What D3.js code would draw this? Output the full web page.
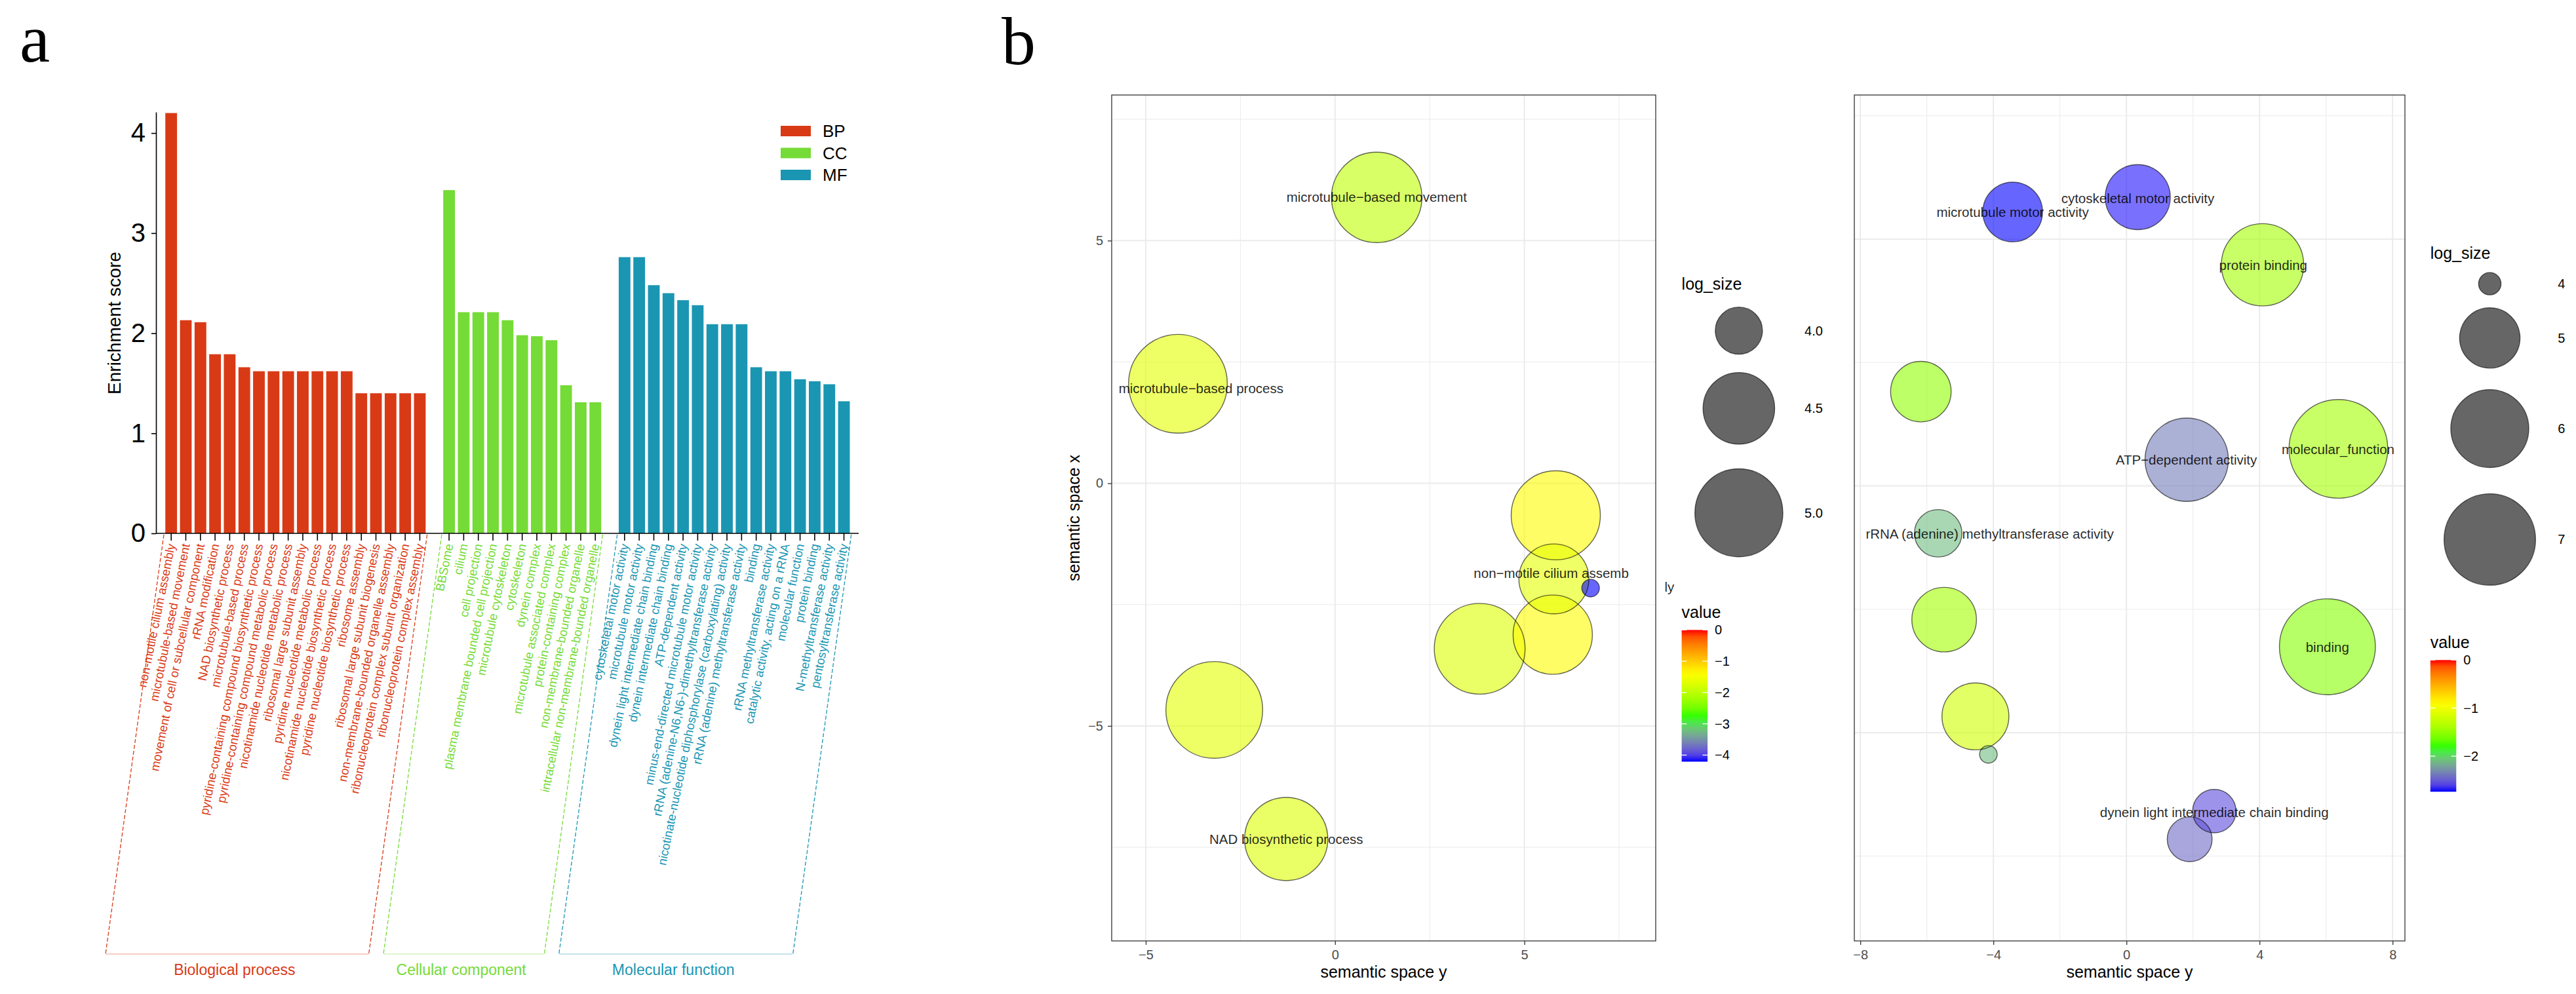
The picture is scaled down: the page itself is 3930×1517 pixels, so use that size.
<!DOCTYPE html>
<html>
<head>
<meta charset="utf-8">
<script src="https://cdn.jsdelivr.net/npm/d3@7"></script>
<style>
body{margin:0;background:#fff;}
text{font-family:"Liberation Sans",Arial,Helvetica,sans-serif;}
</style>
</head>
<body>
<div id="chart"></div>
<script>
// ---------- panel a data ----------
var bpTerms=["non-motile cilium assembly","microtubule-based movement","movement of cell or subcellular component","rRNA modification","NAD biosynthetic process","microtubule-based process","pyridine-containing compound biosynthetic process","pyridine-containing compound metabolic process","nicotinamide nucleotide metabolic process","ribosomal large subunit assembly","pyridine nucleotide metabolic process","nicotinamide nucleotide biosynthetic process","pyridine nucleotide biosynthetic process","ribosome assembly","ribosomal large subunit biogenesis","non-membrane-bounded organelle assembly","ribonucleoprotein complex subunit organization","ribonucleoprotein complex assembly"];
var bpScores=[4.20,2.13,2.11,1.79,1.79,1.66,1.62,1.62,1.62,1.62,1.62,1.62,1.62,1.40,1.40,1.40,1.40,1.40];
var ccTerms=["BBSome","cilium","cell projection","plasma membrane bounded cell projection","microtubule cytoskeleton","cytoskeleton","dynein complex","microtubule associated complex","protein-containing complex","non-membrane-bounded organelle","intracellular non-membrane-bounded organelle"];
var ccScores=[3.43,2.21,2.21,2.21,2.13,1.98,1.97,1.93,1.48,1.31,1.31];
var mfTerms=["cytoskeletal motor activity","microtubule motor activity","dynein light intermediate chain binding","dynein intermediate chain binding","ATP-dependent activity","minus-end-directed microtubule motor activity","rRNA (adenine-N6,N6-)-dimethyltransferase activity","nicotinate-nucleotide diphosphorylase (carboxylating) activity","rRNA (adenine) methyltransferase activity","binding","rRNA methyltransferase activity","catalytic activity, acting on a rRNA","molecular function","protein binding","N-methyltransferase activity","pentosyltransferase activity"];
var mfScores=[2.76,2.76,2.48,2.40,2.33,2.28,2.09,2.09,2.09,1.66,1.62,1.62,1.54,1.52,1.49,1.32];
var groupKeys=["BP","CC","MF"];
var groupNames=["Biological process","Cellular component","Molecular function"];
var groupColors=["#d93a16","#75db36","#1a96b3"];
var scoreTicks=[0,1,2,3,4];

// ---------- panel b data (left: BP terms, right: MF terms) ----------
var leftX=[1.10,-4.15,5.83,5.78,6.75,5.75,3.82,-3.19,-1.29];
var leftY=[5.89,2.05,-0.66,-1.97,-2.16,-3.12,-3.41,-4.67,-7.33];
var leftSize=[5.086,5.398,5.040,4.458,3.786,4.718,5.100,5.321,4.841];
var leftValue=[-1.97,-1.66,-1.38,-1.65,-4.21,-1.38,-1.72,-1.66,-1.72];
var leftLabels=["microtubule\u2212based movement","microtubule\u2212based process","non\u2212motile cilium assemb","ly","NAD biosynthetic process"];
var leftLabelX=[1.10,-3.54,5.71,8.83,-1.29];
var leftLabelY=[5.89,1.95,-1.85,-2.14,-7.33];
var leftSizeBreaks=[4.0,4.5,5.0];

var rightX=[-3.42,0.34,4.09,-6.18,1.81,6.37,-5.66,-5.48,-4.54,-4.15,6.04,2.64,1.90];
var rightY=[5.55,5.85,4.48,1.91,0.53,0.75,-0.96,-2.71,-4.67,-5.44,-3.26,-6.59,-7.16];
var rightSize=[4.967,5.233,6.298,5.004,6.373,7.62,4.481,5.206,5.331,3.987,7.376,4.356,4.398];
var rightValue=[-2.74,-2.72,-1.42,-1.51,-2.37,-1.42,-2.10,-1.42,-1.20,-2.10,-1.55,-2.56,-2.44];
var rightLabels=["microtubule motor activity","cytoskeletal motor activity","protein binding","ATP\u2212dependent activity","molecular_function","rRNA (adenine) methyltransferase activity","binding","dynein light intermediate chain binding"];
var rightLabelX=[-3.42,0.34,4.11,1.80,6.36,-4.11,6.04,2.64];
var rightLabelY=[5.55,5.83,4.47,0.53,0.74,-0.97,-3.27,-6.61];
var rightSizeBreaks=[4,5,6,7];

var W=3930,H=1517;
var svg=d3.select("#chart").append("svg")
  .attr("width",W).attr("height",H)
  .style("background","#fff");

function fmt(d){return d<0?"\u2212"+Math.abs(d):String(d);}

// ================= panel a =================
var slots=[];
var groups=[bpTerms,ccTerms,mfTerms];
var scores=[bpScores,ccScores,mfScores];
groups.forEach(function(terms,g){
  if(g>0) slots.push({key:"gap"+g,g:-1});
  terms.forEach(function(t,i){slots.push({key:groupKeys[g]+i,term:t,score:scores[g][i],g:g});});
});
var bars=slots.filter(function(d){return d.g>=0;});

var xA=d3.scaleBand().domain(slots.map(function(d){return d.key;}))
  .range([250,1298.7]).paddingInner(0.2).paddingOuter(0.1);
var yA=d3.scaleLinear().domain([0,4.21]).range([814,171]);
var bw=xA.bandwidth(),step=xA.step();

var pa=svg.append("g");
pa.selectAll("rect.bar").data(bars).enter().append("rect")
  .attr("class","bar")
  .attr("x",function(d){return xA(d.key);})
  .attr("y",function(d){return yA(d.score);})
  .attr("width",bw)
  .attr("height",function(d){return yA(0)-yA(d.score);})
  .attr("fill",function(d){return groupColors[d.g];});

var yAxisA=pa.append("g").attr("transform","translate(238,0)")
  .call(d3.axisLeft(yA).tickValues(scoreTicks).tickFormat(d3.format("d"))
    .tickSize(7).tickSizeOuter(0).tickPadding(9));
yAxisA.select(".domain").attr("stroke","#000").attr("stroke-width",1.6);
yAxisA.selectAll(".tick line").attr("stroke","#000").attr("stroke-width",1.6);
yAxisA.selectAll(".tick text").attr("font-size",40).attr("fill","#000")
  .style("font-family","'Liberation Sans',Arial,sans-serif");

pa.append("line").attr("x1",238).attr("x2",1310).attr("y1",yA(0)).attr("y2",yA(0))
  .attr("stroke","#000").attr("stroke-width",1.6);
var xAxisA=pa.append("g").attr("transform","translate(0,"+yA(0)+")")
  .call(d3.axisBottom(xA).tickValues(bars.map(function(d){return d.key;})).tickSize(11).tickFormat(""));
xAxisA.select(".domain").remove();
xAxisA.selectAll(".tick line").attr("stroke","#000").attr("stroke-width",1.6);

pa.append("text").attr("transform","translate(184,493) rotate(-90)")
  .attr("text-anchor","middle").attr("font-size",28).attr("fill","#000")
  .text("Enrichment score");

pa.selectAll("text.term").data(bars).enter().append("text")
  .attr("class","term")
  .attr("transform",function(d){return "translate("+(xA(d.key)+bw/2)+",830) rotate(-78.5)";})
  .attr("text-anchor","end").attr("dy","0.35em")
  .attr("font-size",18.6)
  .attr("fill",function(d){return groupColors[d.g];})
  .text(function(d){return d.term;});

// group brackets
var slant=89,topY=816,botY=1456;
groupKeys.forEach(function(k,g){
  var gb=bars.filter(function(d){return d.g===g;});
  var l=xA(gb[0].key)-step*0.1, r=xA(gb[gb.length-1].key)+bw+step*0.1;
  var c=groupColors[g];
  pa.append("path").attr("d","M"+l+","+topY+"L"+(l-slant)+","+botY+"M"+r+","+topY+"L"+(r-slant)+","+botY)
    .attr("stroke",c).attr("stroke-width",1.3).attr("stroke-dasharray","6,3").attr("fill","none");
  pa.append("line").attr("x1",l-slant).attr("x2",r-slant).attr("y1",botY).attr("y2",botY)
    .attr("stroke",c).attr("stroke-opacity",0.35).attr("stroke-width",1.5);
  pa.append("text").attr("x",(l+r)/2-slant-4).attr("y",1488)
    .attr("text-anchor","middle").attr("font-size",23).attr("fill",c)
    .text(groupNames[g]);
});

// legend
var legA=pa.append("g");
groupKeys.forEach(function(k,i){
  var cy=200+i*33.5;
  legA.append("rect").attr("x",1191).attr("y",cy-8).attr("width",46).attr("height",16).attr("fill",groupColors[i]);
  legA.append("text").attr("x",1255).attr("y",cy).attr("dy","0.35em").attr("font-size",26).attr("fill","#000").text(k);
});

svg.append("text").attr("x",30).attr("y",94).attr("font-size",104)
  .style("font-family","'Liberation Serif','Times New Roman',serif").text("a");
svg.append("text").attr("x",1528).attr("y",98).attr("font-size",104)
  .style("font-family","'Liberation Serif','Times New Roman',serif").text("b");

// ================= panel b =================
var defs=svg.append("defs");
defs.append("clipPath").attr("id","cutRight").append("rect")
  .attr("x",2808).attr("y",0).attr("width",W-2808).attr("height",H);

function bubblePlot(o){
  var g=svg.append("g");
  var x=d3.scaleLinear().domain(o.xDomain).range([o.x0,o.x1]);
  var y=d3.scaleLinear().domain(o.yDomain).range([o.y1,o.y0]);
  var grid="#ebebeb";
  g.selectAll("line.vmin").data(o.xMinor).enter().append("line")
    .attr("x1",x).attr("x2",x).attr("y1",o.y0).attr("y2",o.y1).attr("stroke",grid).attr("stroke-width",1);
  g.selectAll("line.hmin").data(o.yMinor).enter().append("line")
    .attr("y1",y).attr("y2",y).attr("x1",o.x0).attr("x2",o.x1).attr("stroke",grid).attr("stroke-width",1);
  g.selectAll("line.vmaj").data(o.xTicks).enter().append("line")
    .attr("x1",x).attr("x2",x).attr("y1",o.y0).attr("y2",o.y1).attr("stroke",grid).attr("stroke-width",2);
  g.selectAll("line.hmaj").data(o.yTicks).enter().append("line")
    .attr("y1",y).attr("y2",y).attr("x1",o.x0).attr("x2",o.x1).attr("stroke",grid).attr("stroke-width",2);

  var vmin=d3.min(o.value);
  var color=d3.scaleLinear().domain([vmin,vmin*2/3,vmin/3,0])
    .range(["#0000ff","#00ff00","#ffff00","#ff0000"]).interpolate(d3.interpolateLab);
  var t=d3.scaleLinear().domain(d3.extent(o.size)).range([0,1]).clamp(true);
  var rs=d3.scaleSqrt().domain([0,1]).range([13.4,75.3]);
  function rad(v){return rs(t(v));}

  var pts=o.xs.map(function(v,i){return {x:v,y:o.ys[i],s:o.size[i],v:o.value[i]};});
  pts.sort(function(a,b){return b.s-a.s;});
  g.selectAll("circle.fillpt").data(pts).enter().append("circle")
    .attr("cx",function(d){return x(d.x);}).attr("cy",function(d){return y(d.y);})
    .attr("r",function(d){return rad(d.s);})
    .attr("fill",function(d){return color(d.v);}).attr("fill-opacity",0.6);
  g.selectAll("circle.ring").data(pts).enter().append("circle")
    .attr("cx",function(d){return x(d.x);}).attr("cy",function(d){return y(d.y);})
    .attr("r",function(d){return rad(d.s);})
    .attr("fill","none").attr("stroke","#000").attr("stroke-opacity",0.6).attr("stroke-width",1.4);

  g.selectAll("text.lab").data(o.labels).enter().append("text")
    .attr("x",function(d,i){return x(o.lx[i]);}).attr("y",function(d,i){return y(o.ly[i]);})
    .attr("dy","0.35em").attr("text-anchor","middle").attr("font-size",20.5)
    .attr("fill","#000").attr("fill-opacity",0.85).text(function(d){return d;});

  g.append("rect").attr("x",o.x0).attr("y",o.y0).attr("width",o.x1-o.x0).attr("height",o.y1-o.y0)
    .attr("fill","none").attr("stroke","#333").attr("stroke-width",1.3);

  var ax=g.append("g").attr("transform","translate(0,"+o.y1+")")
    .call(d3.axisBottom(x).tickValues(o.xTicks).tickSize(6).tickPadding(8).tickFormat(fmt));
  var ay=g.append("g").attr("transform","translate("+o.x0+",0)")
    .call(d3.axisLeft(y).tickValues(o.yTicks).tickSize(6).tickPadding(7).tickFormat(fmt));
  if(o.clip) ay.attr("clip-path","url(#"+o.clip+")");
  [ax,ay].forEach(function(a){
    a.select(".domain").remove();
    a.selectAll(".tick line").attr("stroke","#333").attr("stroke-width",1.3);
    a.selectAll(".tick text").attr("font-size",20).attr("fill","#4d4d4d")
      .style("font-family","'Liberation Sans',Arial,sans-serif");
  });
  g.append("text").attr("x",(o.x0+o.x1)/2).attr("y",o.y1+56).attr("text-anchor","middle")
    .attr("font-size",25).attr("fill","#000").text("semantic space y");
  if(o.yTitle){
    g.append("text").attr("transform","translate("+(o.x0-49)+","+((o.y0+o.y1)/2)+") rotate(-90)")
      .attr("text-anchor","middle").attr("font-size",25).attr("fill","#000").text("semantic space x");
  }

  // size legend
  var L=o.legend;
  g.append("text").attr("x",L.x).attr("y",L.sizeTitleY).attr("font-size",25).attr("fill","#000").text("log_size");
  var rr=o.breaks.map(rad);
  var rmax=rr[rr.length-1];
  var cx=L.x+1.3*rmax, cyv=L.sizeTitleY+16+1.31*rr[0];
  o.breaks.forEach(function(b,i){
    if(i>0) cyv+=1.31*(rr[i-1]+rr[i]);
    g.append("circle").attr("cx",cx).attr("cy",cyv).attr("r",rr[i])
      .attr("fill","#000").attr("fill-opacity",0.6).attr("stroke","#000").attr("stroke-opacity",0.6).attr("stroke-width",1.4);
    g.append("text").attr("x",L.x+2.6*rmax+13).attr("y",cyv).attr("dy","0.35em")
      .attr("font-size",20).attr("fill","#000").text(o.breakLabels[i]);
  });

  // colour bar
  g.append("text").attr("x",L.x).attr("y",L.barTop-18).attr("font-size",25).attr("fill","#000").text("value");
  var gid="grad"+o.id;
  var lg=defs.append("linearGradient").attr("id",gid).attr("x1",0).attr("y1",1).attr("x2",0).attr("y2",0);
  d3.range(0,1.0001,0.05).forEach(function(f){
    lg.append("stop").attr("offset",f).attr("stop-color",color(vmin+(0-vmin)*f));
  });
  var bh=201,bwid=39.5;
  g.append("rect").attr("x",L.x).attr("y",L.barTop).attr("width",bwid).attr("height",bh).attr("fill","url(#"+gid+")");
  var cb=d3.scaleLinear().domain([vmin,0]).range([L.barTop+bh,L.barTop]);
  var cbTicks=d3.range(0,Math.ceil(vmin)-1,-1);
  cbTicks.forEach(function(v){
    var yy=cb(v);
    g.append("line").attr("x1",L.x).attr("x2",L.x+7.6).attr("y1",yy).attr("y2",yy).attr("stroke","#fff").attr("stroke-width",1.3);
    g.append("line").attr("x1",L.x+bwid-7.6).attr("x2",L.x+bwid).attr("y1",yy).attr("y2",yy).attr("stroke","#fff").attr("stroke-width",1.3);
    g.append("text").attr("x",L.x+bwid+11).attr("y",yy).attr("dy","0.35em").attr("font-size",20).attr("fill","#000").text(fmt(v));
  });
}

bubblePlot({id:"L",x0:1696,x1:2526,y0:145,y1:1436,
  xDomain:[-5.9,8.47],yDomain:[-9.43,8.0],
  xTicks:[-5,0,5],xMinor:[-2.5,2.5,7.5],yTicks:[-5,0,5],yMinor:[-7.5,-2.5,2.5,7.5],
  xs:leftX,ys:leftY,size:leftSize,value:leftValue,
  labels:leftLabels,lx:leftLabelX,ly:leftLabelY,yTitle:true,
  breaks:leftSizeBreaks,breakLabels:["4.0","4.5","5.0"],
  legend:{x:2565.6,sizeTitleY:441.5,barTop:961.4}});

bubblePlot({id:"R",x0:2829,x1:3669,y0:145,y1:1436,
  xDomain:[-8.18,8.37],yDomain:[-9.22,7.92],
  xTicks:[-8,-4,0,4,8],xMinor:[-6,-2,2,6],yTicks:[-5,0,5],yMinor:[-7.5,-2.5,2.5,7.5],
  xs:rightX,ys:rightY,size:rightSize,value:rightValue,
  labels:rightLabels,lx:rightLabelX,ly:rightLabelY,yTitle:false,clip:"cutRight",
  breaks:rightSizeBreaks,breakLabels:["4","5","6","7"],
  legend:{x:3707.8,sizeTitleY:394.6,barTop:1007.3}});
</script>
</body>
</html>
